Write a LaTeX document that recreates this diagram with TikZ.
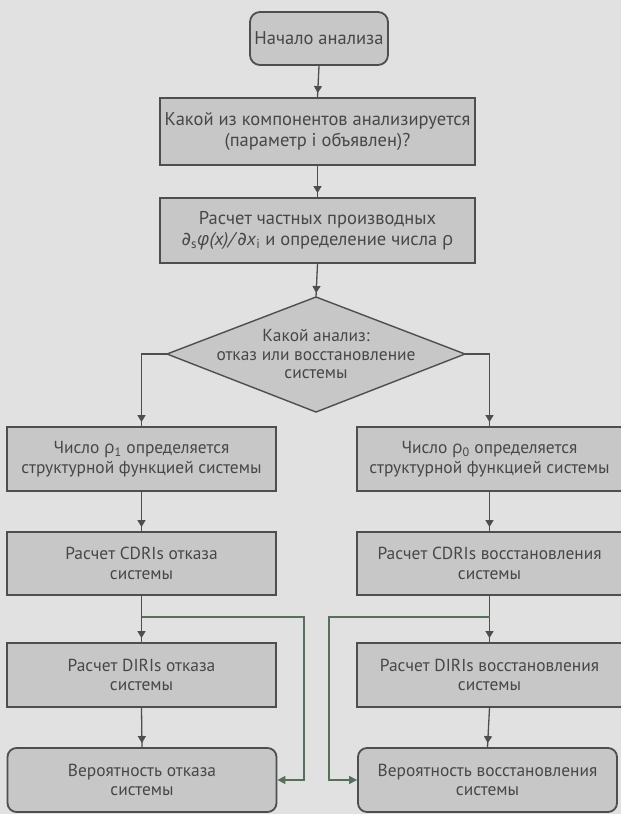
\documentclass[tikz,border=0pt]{standalone}
\usepackage{fontspec}
\setmainfont{PT Sans}
\newfontfamily\grk{Open Sans}
\newfontfamily\symf{DejaVu Sans}
\usetikzlibrary{arrows.meta,decorations.markings,calc}
\definecolor{bg}{HTML}{E1E1E1}
\definecolor{boxfill}{HTML}{C7C7C7}
\definecolor{edge}{HTML}{4E4E4E}
\definecolor{txt}{HTML}{474747}
\definecolor{fb}{HTML}{56705A}
\newcommand{\rh}{{\grk ρ}}
\begin{document}
\begin{tikzpicture}[x=1pt,y=-1pt,
  box/.style={draw=edge, line width=1.8pt, fill=boxfill, inner sep=0pt, align=center, text=txt,
              font=\fontsize{17.4}{19.5}\selectfont},
  bigbox/.style={box, font=\fontsize{18.5}{21.5}\selectfont},
  rbox/.style={box, rounded corners=9pt},
  conn/.style={draw=edge, line width=1.3pt, postaction={decorate},
     decoration={markings, mark=at position -4pt with {\arrow{Triangle[width=8pt,length=7pt]}}}},
  fconn/.style={draw=fb, line width=1.3pt, -{Triangle[width=8pt,length=8pt]}},
]
\fill[bg] (0,0) rectangle (621,814);
\useasboundingbox (0,0) rectangle (621,814);

% top column
\node[bigbox, rounded corners=10pt, minimum width=138pt, minimum height=53pt] (start) at (319,38.5) {Начало анализа};
\node[bigbox, minimum width=315pt, minimum height=67pt] (comp) at (317.5,131.5)
  {Какой из компонентов анализируется\\(параметр i объявлен)?};
\node[bigbox, minimum width=315pt, minimum height=65pt] (deriv) at (317.5,230.5)
  {Расчет частных производных\\{\symf\itshape ∂}\textsubscript{s}{\grk\itshape φ}\textit{(x)/}{\symf\itshape ∂}\textit{x}\textsubscript{i} и определение числа \rh};

% diamond
\coordinate (dT) at (316,297);
\coordinate (dL) at (167,354);
\coordinate (dR) at (465,354);
\coordinate (dB) at (316,412);
\fill[boxfill] (dT) -- (dR) -- (dB) -- (dL) -- cycle;
\draw[edge, line width=1.4pt, line join=miter] (dT) -- (dR) -- (dB) -- (dL) -- cycle;
\node[align=center, text=txt, font=\fontsize{17.4}{18.5}\selectfont, inner sep=0pt] (dec) at (316,354)
  {Какой анализ:\\отказ или восстановление\\системы};

% left column
\node[box, minimum width=269pt, minimum height=64pt] (l1) at (141.5,459)
  {Число \rh\textsubscript{1} определяется\\структурной функцией системы};
\node[box, minimum width=269pt, minimum height=63pt] (l2) at (141.5,563.5)
  {Расчет CDRIs отказа\\системы};
\node[box, minimum width=269pt, minimum height=64pt] (l3) at (141.5,675)
  {Расчет DIRIs отказа\\системы};
\node[rbox, minimum width=269pt, minimum height=64pt] (l4) at (142,780)
  {Вероятность отказа\\системы};

% right column
\node[box, minimum width=265pt, minimum height=64pt] (r1) at (489.5,459)
  {Число \rh\textsubscript{0} определяется\\структурной функцией системы};
\node[box, minimum width=265pt, minimum height=63pt] (r2) at (489.5,563.5)
  {Расчет CDRIs восстановления\\системы};
\node[box, minimum width=265pt, minimum height=64pt] (r3) at (489.5,675)
  {Расчет DIRIs восстановления\\системы};
\node[rbox, minimum width=259pt, minimum height=64pt] (r4) at (487.5,780)
  {Вероятность восстановления\\системы};

% connectors
\draw[conn] (start.south) -- (comp.north);
\draw[conn] (comp.south) -- (deriv.north);
\draw[conn] (deriv.south) -- (dT);
\draw[conn] (dL) -| (l1.north);
\draw[conn] (dR) -| (r1.north);
\draw[conn] (l1.south) -- (l2.north);
\draw[conn] (l2.south) -- (l3.north);
\draw[conn] (l3.south) -- (l4.north);
\draw[conn] (r1.south) -- (r2.north);
\draw[conn] (r2.south) -- (r3.north);
\draw[conn] (r3.south) -- (r4.north);

% feedback connectors
\coordinate (fl) at (141.5,617);
\coordinate (fr) at (489.5,617);
\coordinate (flc) at (304,617);
\coordinate (frc) at (329,617);
\draw[fconn] (fl) -- (flc) |- (l4.east);
\draw[fconn] (fr) -- (frc) |- (r4.west);
\end{tikzpicture}
\end{document}
